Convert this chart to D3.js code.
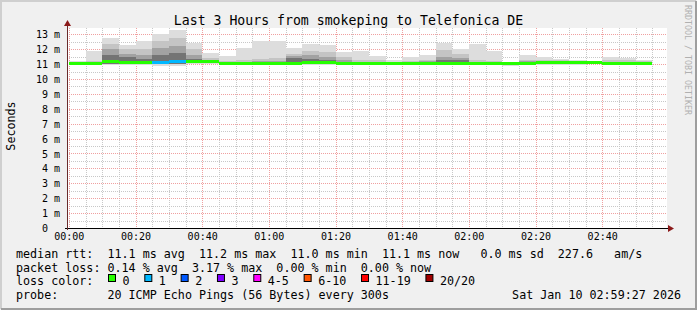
<!DOCTYPE html>
<html>
<head>
<meta charset="utf-8">
<script src="https://cdn.jsdelivr.net/npm/d3@7"></script>
<style>
  body { margin: 0; background: #f0f0f0; }
  text { font-family: "DejaVu Sans Mono", monospace; white-space: pre; }
</style>
</head>
<body>
<script>
// smokeping latency graph, 5 minute bins, 20 pings each

var width = 697,
    height = 310,
    plotLeft = 67,
    plotRight = 667,
    plotTop = 28,
    plotBottom = 228,
    yMax = 13.42;

// bin start, minutes after 00:00
var binStart = d3.range(0, 175, 5);
// values in ms
var medianMs  = [11.04,11.05,11.20,11.13,11.09,11.09,11.15,11.19,11.15,11.07,11.05,11.05,11.05,11.06,11.08,11.08,11.05,11.05,11.05,11.05,11.06,11.06,11.06,11.06,11.05,11.05,11.05,11.05,11.13,11.13,11.13,11.08,11.06,11.06,11.06];
var smokeMax  = [11.20,11.87,12.72,12.27,12.54,13.02,13.28,12.43,11.71,11.53,12.05,12.54,12.54,12.09,12.33,12.27,11.78,11.87,11.53,11.24,11.49,11.58,12.43,11.98,12.32,11.87,11.10,11.58,11.49,11.35,11.26,11.08,11.49,11.44,11.30];
var smokeHi2  = [11.15,11.20,12.35,12.00,12.00,12.55,12.75,12.00,11.40,11.20,11.30,11.35,11.40,11.70,11.90,11.80,11.45,11.30,11.25,11.15,11.20,11.30,11.95,11.70,11.30,11.20,11.08,11.30,11.30,11.25,11.18,11.08,11.30,11.30,11.20];
var smokeHi3  = [11.10,11.12,12.00,11.70,11.60,12.10,12.20,11.60,11.25,11.15,11.15,11.20,11.20,11.55,11.60,11.50,11.25,11.15,11.15,11.10,11.12,11.20,11.50,11.40,11.15,11.12,11.06,11.20,11.20,11.18,11.15,11.08,11.15,11.15,11.12];
var smokeHi4  = [11.08,11.08,11.60,11.45,11.35,11.60,11.75,11.35,11.18,11.10,11.10,11.12,11.12,11.40,11.35,11.30,11.15,11.10,11.10,11.08,11.10,11.12,11.30,11.25,11.10,11.08,11.05,11.12,11.15,11.15,11.14,11.08,11.10,11.10,11.08];
var innerLo   = [11.00,11.00,11.02,11.03,11.02,10.98,11.00,11.10,11.05,11.00,11.00,11.00,11.00,11.00,11.00,11.00,11.00,11.00,11.00,11.00,11.00,11.00,11.00,11.00,11.00,11.00,10.98,11.00,11.02,11.02,11.03,11.02,11.00,11.00,11.00];
var smokeMin  = [10.98,10.98,10.95,10.97,10.95,10.85,10.90,10.98,11.00,10.98,10.95,10.92,10.95,10.97,10.95,10.97,10.98,10.95,10.98,11.00,10.98,10.98,10.97,10.97,10.98,10.98,10.86,10.98,10.95,10.92,10.95,11.00,10.97,10.95,10.98];
var lossCount = [0,0,0,0,0,1,1,0,0,0,0,0,0,0,0,0,0,0,0,0,0,0,0,0,0,0,0,0,0,0,0,0,0,0,0];

var lossLabels = ['0','1','2','3','4-5','6-10','11-19','20/20'];
var lossColors = ['#26ff00','#00b8ff','#0059ff','#7e00ff','#ff00ff','#ff5500','#ff0000','#a00000'];
var yTicks = d3.range(0, 14, 1);

var statLine  = 'median rtt:  11.1 ms avg  11.2 ms max  11.0 ms min  11.1 ms now   0.0 ms sd  227.6   am/s';
var lossLine  = 'packet loss: 0.14 % avg  3.17 % max  0.00 % min  0.00 % now';
var probeLine = 'probe:       20 ICMP Echo Pings (56 Bytes) every 300s';
var stampLine = 'Sat Jan 10 02:59:27 2026';
var title = 'Last 3 Hours from smokeping to Telefonica DE';

var tStart = new Date(2026, 0, 9, 23, 59, 27),
    tEnd = new Date(2026, 0, 10, 2, 59, 27),
    midnight = new Date(2026, 0, 10, 0, 0, 0);

var svg = d3.select('body').append('svg')
  .attr('width', width)
  .attr('height', height);

// frame
svg.append('rect').attr('width', width).attr('height', height).attr('fill', '#f0f0f0');
svg.append('path').attr('d', 'M1,' + (height - 1) + 'V1H' + (width - 1))
  .attr('stroke', '#cfcfcf').attr('stroke-width', 2).attr('fill', 'none');
svg.append('path').attr('d', 'M1,' + (height - 1) + 'H' + (width - 1) + 'V1')
  .attr('stroke', '#9e9e9e').attr('stroke-width', 2).attr('fill', 'none');

var xScale = d3.scaleTime().domain([tStart, tEnd]).range([plotLeft, plotRight]);
var yScale = d3.scaleLinear().domain([0, yMax]).range([plotBottom, plotTop]);

svg.append('rect')
  .attr('x', plotLeft).attr('y', plotTop)
  .attr('width', plotRight - plotLeft).attr('height', plotBottom - plotTop)
  .attr('fill', '#ffffff');

// grid
var grid = svg.append('g');
var minorX = d3.timeMinute.every(5).range(tStart, tEnd);
var majorX = d3.timeMinute.every(20).range(tStart, tEnd);
grid.selectAll('.vminor').data(minorX).enter().append('line')
  .attr('x1', function(d){ return Math.round(xScale(d)) + 0.5; })
  .attr('x2', function(d){ return Math.round(xScale(d)) + 0.5; })
  .attr('y1', plotTop).attr('y2', plotBottom)
  .attr('stroke', '#c8c8c8').attr('stroke-dasharray', '1,1');
grid.selectAll('.hminor').data(d3.range(0.5, yMax, 1)).enter().append('line')
  .attr('y1', function(d){ return Math.round(yScale(d)) + 0.5; })
  .attr('y2', function(d){ return Math.round(yScale(d)) + 0.5; })
  .attr('x1', plotLeft).attr('x2', plotRight)
  .attr('stroke', '#c8c8c8').attr('stroke-dasharray', '1,1');
grid.selectAll('.vmajor').data(majorX).enter().append('line')
  .attr('x1', function(d){ return Math.round(xScale(d)) + 0.5; })
  .attr('x2', function(d){ return Math.round(xScale(d)) + 0.5; })
  .attr('y1', plotTop).attr('y2', plotBottom)
  .attr('stroke', '#f0a0a0').attr('stroke-dasharray', '1,1');
grid.selectAll('.hmajor').data(yTicks.slice(1)).enter().append('line')
  .attr('y1', function(d){ return Math.round(yScale(d)) + 0.5; })
  .attr('y2', function(d){ return Math.round(yScale(d)) + 0.5; })
  .attr('x1', plotLeft).attr('x2', plotRight)
  .attr('stroke', '#f0a0a0').attr('stroke-dasharray', '1,1');

// smoke
var bins = binStart.map(function(m, i){
  return {
    t0: d3.timeMinute.offset(midnight, m),
    t1: d3.timeMinute.offset(midnight, m + 5),
    median: medianMs[i], max: smokeMax[i], hi2: smokeHi2[i], hi3: smokeHi3[i],
    hi4: smokeHi4[i], lo: innerLo[i], min: smokeMin[i], loss: lossCount[i]
  };
});
var layers = [
  {hi: 'max', lo: 'min', color: '#dddddd'},
  {hi: 'hi2', lo: 'lo', color: '#c4c4c4'},
  {hi: 'hi3', lo: 'lo', color: '#a2a2a2'},
  {hi: 'hi4', lo: 'lo', color: '#747474'}
];
var smoke = svg.append('g');
layers.forEach(function(layer){
  smoke.selectAll(null).data(bins).enter().append('rect')
    .attr('x', function(d){ return xScale(d.t0); })
    .attr('width', function(d){ return xScale(d.t1) - xScale(d.t0); })
    .attr('y', function(d){ return yScale(d[layer.hi]); })
    .attr('height', function(d){ return Math.max(0, yScale(d[layer.lo]) - yScale(d[layer.hi])); })
    .attr('fill', layer.color)
    .attr('shape-rendering', 'crispEdges');
});

function lossColor(n){
  if (n <= 3) return lossColors[n];
  if (n <= 5) return lossColors[4];
  if (n <= 10) return lossColors[5];
  if (n < 20) return lossColors[6];
  return lossColors[7];
}

// median
svg.append('g').selectAll('rect').data(bins).enter().append('rect')
  .attr('x', function(d){ return xScale(d.t0); })
  .attr('width', function(d){ return xScale(d.t1) - xScale(d.t0); })
  .attr('y', function(d){ return yScale(d.median) - 1.5; })
  .attr('height', 3)
  .attr('fill', function(d){ return lossColor(d.loss); })
  .attr('shape-rendering', 'crispEdges');

// axes
svg.append('line')
  .attr('x1', plotLeft - 2).attr('x2', plotRight + 2)
  .attr('y1', plotBottom + 0.5).attr('y2', plotBottom + 0.5)
  .attr('stroke', '#000');
svg.append('line')
  .attr('x1', plotLeft + 0.5).attr('x2', plotLeft + 0.5)
  .attr('y1', plotBottom + 2).attr('y2', plotTop - 3)
  .attr('stroke', '#6a2a2a');
svg.append('path')
  .attr('d', 'M' + (plotLeft - 3) + ',' + (plotTop - 2) + 'L' + (plotLeft + 0.5) + ',' + (plotTop - 8) + 'L' + (plotLeft + 4) + ',' + (plotTop - 2) + 'Z')
  .attr('fill', '#8b1a1a');
svg.append('path')
  .attr('d', 'M' + (plotRight + 1) + ',' + (plotBottom - 3) + 'L' + (plotRight + 7) + ',' + (plotBottom + 0.5) + 'L' + (plotRight + 1) + ',' + (plotBottom + 4) + 'Z')
  .attr('fill', '#8b1a1a');

var xAxis = d3.axisBottom(xScale)
  .ticks(d3.timeMinute.every(20))
  .tickFormat(d3.timeFormat('%H:%M'))
  .tickSize(0).tickPadding(0);
var gx = svg.append('g').attr('transform', 'translate(0,' + plotBottom + ')').call(xAxis);
gx.select('.domain').remove();
gx.selectAll('text')
  .attr('dy', null).attr('y', 11.5)
  .attr('font-family', 'DejaVu Sans Mono').attr('font-size', 10).attr('fill', '#000');

var yAxis = d3.axisLeft(yScale)
  .tickValues(yTicks)
  .tickFormat(function(d){ return d === 0 ? '0' : d + ' m'; })
  .tickSize(0).tickPadding(7);
var gy = svg.append('g').attr('transform', 'translate(' + plotLeft + ',0)').call(yAxis);
gy.select('.domain').remove();
gy.selectAll('text')
  .attr('dy', '0.36em')
  .attr('dx', function(d){ return d === 0 ? -12 : 0; })
  .attr('font-family', 'DejaVu Sans Mono').attr('font-size', 10).attr('fill', '#000');

// titles
svg.append('text').attr('x', 348.5).attr('y', 24.5)
  .attr('text-anchor', 'middle').attr('font-size', 13.2).attr('fill', '#000')
  .text(title);
svg.append('text').attr('transform', 'translate(14.5,126) rotate(-90)')
  .attr('text-anchor', 'middle').attr('font-size', 11.7).attr('fill', '#000')
  .text('Seconds');
svg.append('text').attr('transform', 'translate(685,5) rotate(90)')
  .attr('font-size', 8.3).attr('fill', '#b0b0b0')
  .text('RRDTOOL / TOBI OETIKER');

// legend
var legendX = 16, legendFont = 11.7, charW = 7.02;
svg.append('text').attr('x', legendX).attr('y', 257.7).attr('font-size', legendFont).text(statLine);
svg.append('text').attr('x', legendX).attr('y', 271.5).attr('font-size', legendFont).text(lossLine);
svg.append('text').attr('x', legendX).attr('y', 285.3).attr('font-size', legendFont).text('loss color:');
svg.append('text').attr('x', legendX).attr('y', 299.2).attr('font-size', legendFont).text(probeLine);
svg.append('text').attr('x', 681).attr('y', 299.2).attr('font-size', legendFont)
  .attr('text-anchor', 'end').text(stampLine);

var bx = 108.5;
lossLabels.forEach(function(lbl, i){
  svg.append('rect').attr('x', bx).attr('y', 274.5).attr('width', 7).attr('height', 7)
    .attr('fill', lossColors[i]).attr('stroke', '#000');
  svg.append('text').attr('x', bx + 14).attr('y', 285.3).attr('font-size', legendFont).text(lbl);
  bx = bx + 14 + lbl.length * charW + 15.3;
});
</script>
</body>
</html>
